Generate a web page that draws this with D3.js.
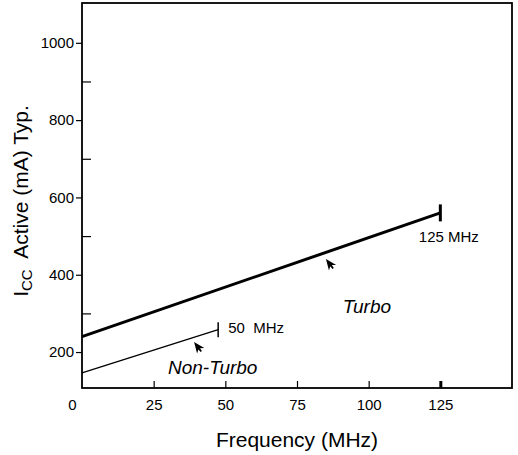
<!DOCTYPE html>
<html>
<head>
<meta charset="utf-8">
<script src="https://cdn.jsdelivr.net/npm/d3@7"></script>
<style>
  body { margin: 0; background: #fff; }
  svg text { font-family: "Liberation Sans", Arial, sans-serif; fill: #000; }
</style>
</head>
<body>
<svg id="chart"></svg>
<script>
// values
const xTickValues = [0, 25, 50, 75, 100, 125];
const xInnerTicks = [25, 50, 75, 100, 125];
const yMajorTicks = [200, 400, 600, 800, 1000];
const yMinorTicks = [300, 500, 700, 900];

const turboFreq = [0, 125];
const turboIcc = [240, 560];
const nonTurboFreq = [0, 47.5];
const nonTurboIcc = [146, 258];

const endLabels = ["125 MHz", "50  MHz"];
const seriesNames = ["Turbo", "Non-Turbo"];

const width = 518, height = 455;
const margin = {top: 3, right: 6, bottom: 67, left: 82};

const svg = d3.select("#chart")
    .attr("width", width)
    .attr("height", height);

const innerW = width - margin.left - margin.right;
const innerH = height - margin.top - margin.bottom;

const x = d3.scaleLinear().domain([0, 150]).range([0, innerW]);
const y = d3.scaleLinear().domain([107, 1103]).range([innerH, 0]);

const g = svg.append("g")
    .attr("transform", `translate(${margin.left},${margin.top})`);

// y axis: major ticks outward with labels, minor ticks inward
g.append("g")
    .call(d3.axisLeft(y).tickValues(yMajorTicks).tickSize(6).tickPadding(2).tickFormat(d3.format("d")))
    .call(a => a.select(".domain").remove())
    .call(a => a.selectAll("line").attr("stroke-width", 1.2))
    .call(a => a.selectAll("text").style("font-size", "15px"));

g.append("g")
    .call(d3.axisRight(y).tickValues(yMinorTicks).tickSize(9).tickFormat(""))
    .call(a => a.select(".domain").remove())
    .call(a => a.selectAll("line").attr("stroke-width", 1.2));

// x axis: inner ticks up, labels below
g.append("g")
    .attr("transform", `translate(0,${innerH})`)
    .call(d3.axisTop(x).tickValues(xInnerTicks).tickSize(7).tickFormat(""))
    .call(a => a.select(".domain").remove())
    .call(a => a.selectAll("line").attr("stroke-width", d => d === 125 ? 3 : 1.2));

g.append("g")
    .attr("transform", `translate(0,${innerH})`)
    .call(d3.axisBottom(x).tickValues(xTickValues).tickSize(0).tickPadding(11))
    .call(a => a.select(".domain").remove())
    .call(a => a.selectAll("text")
        .style("font-size", "15px")
        .attr("dx", d => d === 0 ? -10 : 0));

// frame
g.append("rect")
    .attr("x", 0).attr("y", 0)
    .attr("width", innerW).attr("height", innerH)
    .attr("fill", "none")
    .attr("stroke", "#000")
    .attr("stroke-width", 1.8);

// lines
const series = [
    {name: seriesNames[0], freq: turboFreq, icc: turboIcc, w: 3, tick: 8.5},
    {name: seriesNames[1], freq: nonTurboFreq, icc: nonTurboIcc, w: 1.3, tick: 7.5}
];

const line = d3.line().x(d => x(d[0])).y(d => y(d[1]));

series.forEach(s => {
    const pts = s.freq.map((f, i) => [f, s.icc[i]]);
    g.append("path")
        .datum(pts)
        .attr("d", line)
        .attr("fill", "none")
        .attr("stroke", "#000")
        .attr("stroke-width", s.w);
    const last = pts[pts.length - 1];
    g.append("line")
        .attr("x1", x(last[0])).attr("x2", x(last[0]))
        .attr("y1", y(last[1]) - s.tick).attr("y2", y(last[1]) + s.tick)
        .attr("stroke", "#000")
        .attr("stroke-width", s.w === 3 ? 3 : 1.5);
});

// annotations (anchored in data units)
g.append("text")
    .attr("x", x(117.5)).attr("y", y(485))
    .style("font-size", "15px")
    .text(endLabels[0]);

g.append("text")
    .attr("x", x(51)).attr("y", y(249))
    .style("font-size", "15px")
    .style("white-space", "pre")
    .text(endLabels[1]);

g.append("text")
    .attr("x", x(91)).attr("y", y(301))
    .style("font-size", "19px")
    .style("font-style", "italic")
    .text(seriesNames[0]);

g.append("text")
    .attr("x", x(30)).attr("y", y(143))
    .style("font-size", "19px")
    .style("font-style", "italic")
    .text(seriesNames[1]);

// small arrowheads pointing up-left to the lines
function arrow(fx, fy) {
    const ang = -180 + Math.atan2(8, 6) * 180 / Math.PI;
    g.append("path")
        .attr("transform", `translate(${x(fx)},${y(fy)}) rotate(${ang})`)
        .attr("d", "M0,0 L-11,-4.5 L-8.5,-1 L-12,-0.8 L-12,0.8 L-8.5,1 L-11,4.5 Z")
        .attr("fill", "#000");
}
arrow(85.1, 441);
arrow(39.1, 226);

// axis titles
svg.append("text")
    .attr("x", margin.left + innerW / 2)
    .attr("y", 447)
    .attr("text-anchor", "middle")
    .style("font-size", "21px")
    .text("Frequency (MHz)");

const yt = svg.append("text")
    .attr("transform", "translate(28,201) rotate(-90)")
    .attr("text-anchor", "middle")
    .style("font-size", "21px");
yt.append("tspan").text("I");
yt.append("tspan").attr("dy", 4).style("font-size", "15px").text("CC");
yt.append("tspan").attr("dy", -4).style("white-space", "pre").text("  Active (mA) Typ.");
</script>
</body>
</html>
